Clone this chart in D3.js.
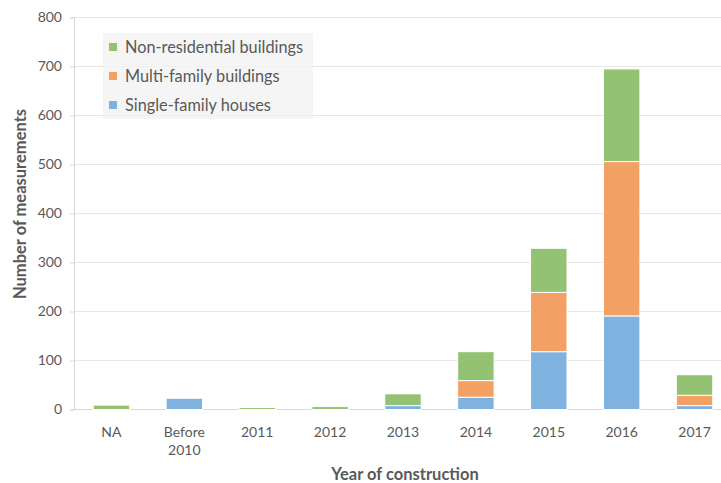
<!DOCTYPE html>
<html><head><meta charset="utf-8">
<script src="https://cdn.jsdelivr.net/npm/d3@7"></script>
<style>body{margin:0;background:#fff;} svg{display:block;font-family:Lato,"Open Sans",sans-serif;}</style>
</head><body><svg id="c" width="721" height="483"></svg>
<script>
const categories = ["NA","Before\n2010","2011","2012","2013","2014","2015","2016","2017"];
const singleFamily = [0,23,0,0,8,25,118,191,8];
const multiFamily = [0,0,0,0,0,34,121,315,21];
const nonResidential = [9,0,4,6,24,59,90,189,42];
const yTicks = [0,100,200,300,400,500,600,700,800];
const seriesNames = ["Single-family houses","Multi-family buildings","Non-residential buildings"];
const seriesColors = ["#80b2e0","#f3a064","#94c273"];

const svg = d3.select("#c");
const x = d3.scaleBand().domain(categories).range([75,731]).paddingInner(0.5).paddingOuter(0.25);
const y = d3.scaleLinear().domain([0,800]).range([409.5,17.5]);

// gridlines
svg.append("g").selectAll("line").data(yTicks.filter(d=>d>0)).join("line")
  .attr("x1",74).attr("x2",721).attr("y1",d=>y(d)).attr("y2",d=>y(d))
  .attr("stroke","#e6e6e6").attr("stroke-width",1);

// y axis
const ya = svg.append("g").attr("transform","translate(74,0)")
  .call(d3.axisLeft(y).tickValues(yTicks).tickSize(4).tickPadding(8));
ya.select(".domain").attr("stroke","#d9d9d9");
ya.selectAll(".tick line").attr("stroke","#d9d9d9");
ya.selectAll("text").attr("fill","#595959").attr("font-size",14).attr("font-family","Lato,sans-serif");

// x baseline
svg.append("line").attr("x1",74).attr("x2",721).attr("y1",y(0)).attr("y2",y(0)).attr("stroke","#d9d9d9");

// stacked data
const rows = categories.map((c,i)=>({cat:c, s:singleFamily[i], m:multiFamily[i], n:nonResidential[i]}));
const stack = d3.stack().keys(["s","m","n"])(rows);
svg.append("g").selectAll("g").data(stack).join("g")
  .attr("fill",(d,i)=>seriesColors[i])
  .selectAll("rect").data(d=>d.filter(p=>p[1]-p[0]>0)).join("rect")
  .attr("x",d=>x(d.data.cat)).attr("width",x.bandwidth())
  .attr("y",d=>y(d[1])).attr("height",d=>y(d[0])-y(d[1]))
  .attr("stroke","#fff").attr("stroke-width",1);

// x labels
const xl = svg.append("g");
categories.forEach(c=>{
  const t = xl.append("text").attr("x",x(c)+x.bandwidth()/2).attr("y",437)
    .attr("text-anchor","middle").attr("fill","#595959").attr("font-size",14);
  c.split("\n").forEach((line,i)=>t.append("tspan").attr("x",x(c)+x.bandwidth()/2).attr("dy",i?18:0).text(line));
});

// axis titles
svg.append("text").attr("x",405).attr("y",480).attr("text-anchor","middle")
  .attr("font-weight","bold").attr("font-size",16.5).attr("fill","#595959").text("Year of construction");
svg.append("text").attr("transform","translate(26,204) rotate(-90)").attr("text-anchor","middle")
  .attr("font-weight","bold").attr("font-size",16.5).attr("fill","#595959").text("Number of measurements");

// legend
const lg = svg.append("g");
lg.append("rect").attr("x",103).attr("y",33).attr("width",210).attr("height",86).attr("fill","#f2f2f2").attr("opacity",0.8);
[2,1,0].forEach((si,k)=>{
  const yy = 47 + k*29;
  lg.append("rect").attr("x",109).attr("y",yy-4).attr("width",8).attr("height",8).attr("fill",seriesColors[si]);
  lg.append("text").attr("x",125).attr("y",yy+6).attr("font-size",16.3).attr("fill","#595959").text(seriesNames[si]);
});
</script></body></html>
